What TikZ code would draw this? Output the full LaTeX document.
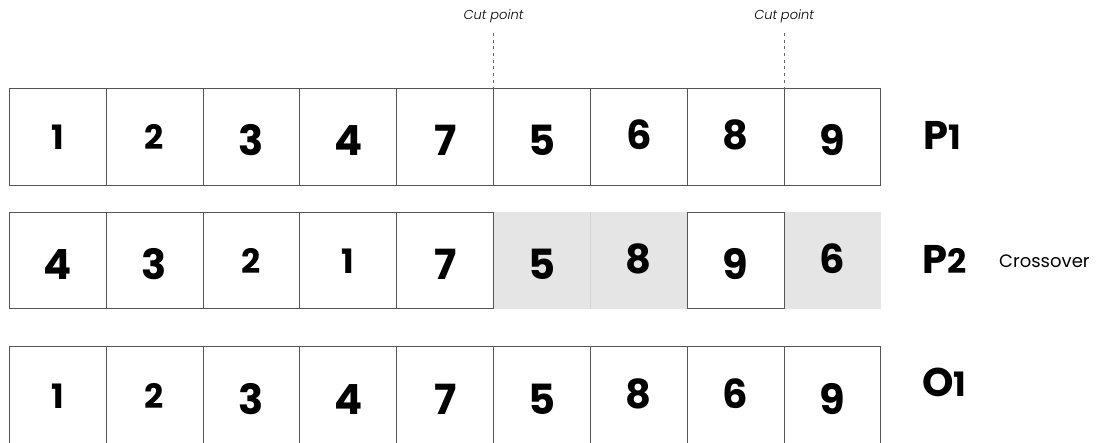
\documentclass[tikz,border=0pt]{standalone}
\usepackage{fontspec}
\setmainfont{Poppins}
\newfontfamily\lightfont{Poppins}[UprightFont=* Light, ItalicFont=* Light Italic]
\usepackage{graphicx}
\definecolor{edge}{HTML}{555555}
\definecolor{cellgray}{HTML}{E5E5E5}
\definecolor{sepgray}{HTML}{D4D4D4}
\definecolor{dashgray}{HTML}{666666}
\newcommand\odig[1]{%
 \ifnum#1=1\relax\scalebox{0.84}{#1}%
 \else\ifnum#1=2\relax\scalebox{0.84}{#1}%
 \else\ifnum#1=6\relax#1%
 \else\ifnum#1=8\relax#1%
 \else\raisebox{-6.5pt}{\scalebox{1.04}{#1}}%
 \fi\fi\fi\fi}
\tikzset{
 cell/.style={rectangle, minimum width=96.85pt, minimum height=96.6pt, inner sep=0pt, outer sep=0pt,
   font=\fontsize{40}{40}\selectfont\bfseries, text height=30pt, text depth=5pt},
 box/.style={cell, draw=edge, line width=1pt, fill=white},
 graycell/.style={cell, fill=cellgray},
 lastrow/.style={minimum height=97.8pt},
 rowlabel/.style={anchor=base west, inner sep=0pt, font=\fontsize{40}{40}\selectfont\bfseries},
 cutlabel/.style={anchor=base, inner sep=0pt, font=\lightfont\itshape\fontsize{13}{13}\selectfont},
 cutline/.style={draw=dashgray, line width=0.9pt, dash pattern=on 3pt off 3.7pt},
 note/.style={anchor=base west, inner sep=0pt, font=\fontsize{18}{18}\selectfont}
}
\begin{document}
\begin{tikzpicture}[x=1pt,y=-1pt]
\clip (0,0) rectangle (1097,443);
\fill[white] (0,0) rectangle (1097,443);
% row 1 (P1)
\foreach \v [count=\i] in {1,2,3,4,7,5,6,8,9}
  \node[box] (a\i) at ({9.3+96.85*(\i-0.5)},137) {\odig{\v}};
% row 2 (P2)
\foreach \i/\v in {6/5,7/8,9/6}
  \node[graycell] (b\i) at ({9.3+96.85*(\i-0.5)},260.65) {\odig{\v}};
\draw[sepgray, line width=1pt] (b6.north east) -- (b6.south east);
\foreach \i/\v in {1/4,2/3,3/2,4/1,5/7,8/9}
  \node[box] (b\i) at ({9.3+96.85*(\i-0.5)},260.65) {\odig{\v}};
% row 3 (O1)
\foreach \v [count=\i] in {1,2,3,4,7,5,8,6,9}
  \node[box, lastrow] (c\i) at ({9.3+96.85*(\i-0.5)},395.6) {\odig{\v}};
% row labels
\node[rowlabel] (p1) at (923,149.5) {P\odig{1}};
\node[rowlabel] (p2) at (922,273.1) {P\odig{2}};
\node[rowlabel] (o1) at (922,396.7) {O\odig{1}};
\node[note] (cross) at (999,267.5) {Crossover};
% cut points
\path (a5.north east) ++(0,-55.7) coordinate (k1);
\path (a8.north east) ++(0,-55.7) coordinate (k2);
\path (k1) ++(0,-13) node[cutlabel] (t1) {Cut point};
\path (k2) ++(0,-13) node[cutlabel] (t2) {Cut point};
\draw[cutline] (k1) -- (a5.north east);
\draw[cutline] (k2) -- (a8.north east);
\end{tikzpicture}
\end{document}
